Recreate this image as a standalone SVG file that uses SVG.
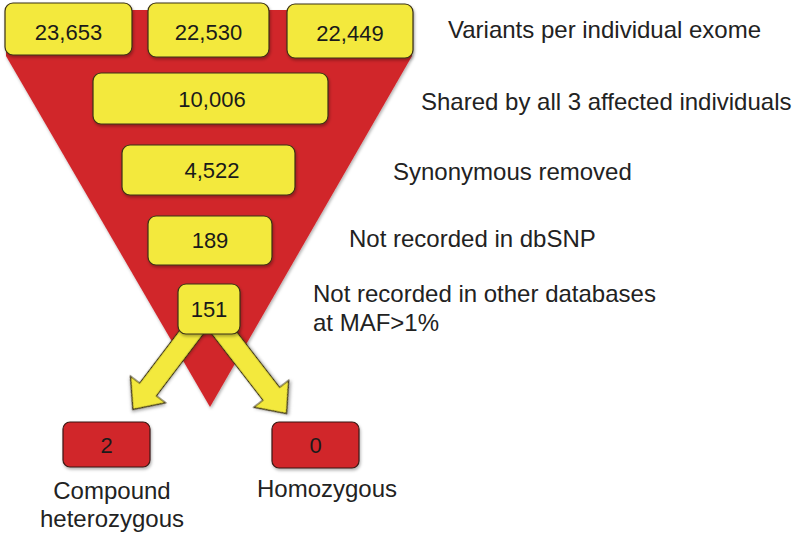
<svg xmlns="http://www.w3.org/2000/svg" width="794" height="535" viewBox="0 0 794 535">
<style>
.y{fill:#f3e93c;stroke:#3a3016;stroke-width:1.2}
.r{fill:#d1252b;stroke:#3a1a14;stroke-width:1.2}
.n{font-family:"Liberation Sans",Arial,sans-serif;font-size:22px;fill:#1a1a1a;text-anchor:middle}
.l{font-family:"Liberation Sans",Arial,sans-serif;font-size:24px;fill:#222}
.c{text-anchor:middle}
.arrow{fill:#f3e93c;stroke:#3a3016;stroke-width:1.2;stroke-linejoin:miter}
</style>
<defs>
<filter id="sh" x="-10%" y="-10%" width="130%" height="140%">
<feDropShadow dx="1" dy="2" stdDeviation="1.5" flood-color="#000" flood-opacity="0.3"/>
</filter>
</defs>
<g id="funnel">
<polygon points="6,10 412,10 412,56 210,407 6,56" fill="#d1252b" filter="url(#sh)"/>
</g>
<g id="connectors">
<polygon class="arrow" points="-10.5,0 10.5,0 10.5,86 22,86 0,111 -22,86 -10.5,86" transform="translate(200,321) rotate(37.2)" filter="url(#sh)"/>
<polygon class="arrow" points="-10.5,0 10.5,0 10.5,92 22,92 0,117 -22,92 -10.5,92" transform="translate(215,321) rotate(-37.7)" filter="url(#sh)"/>
</g>
<g id="n1"><rect class="y" x="5" y="3" width="127" height="52" rx="8" filter="url(#sh)"/><text class="n" x="68.5" y="40">23,653</text></g>
<g id="n2"><rect class="y" x="148" y="3" width="121" height="54" rx="8" filter="url(#sh)"/><text class="n" x="208.5" y="40">22,530</text></g>
<g id="n3"><rect class="y" x="287" y="4" width="126" height="54" rx="8" filter="url(#sh)"/><text class="n" x="350" y="41">22,449</text></g>
<g id="n4"><rect class="y" x="93" y="73" width="235" height="51" rx="8" filter="url(#sh)"/><text class="n" x="212" y="107">10,006</text></g>
<g id="n5"><rect class="y" x="122" y="145" width="173" height="50" rx="8" filter="url(#sh)"/><text class="n" x="212" y="178">4,522</text></g>
<g id="n6"><rect class="y" x="148" y="216" width="124" height="49" rx="8" filter="url(#sh)"/><text class="n" x="210" y="248">189</text></g>
<g id="n7"><rect class="y" x="178" y="284" width="62" height="50" rx="8" filter="url(#sh)"/><text class="n" x="209" y="317">151</text></g>
<g id="n8"><rect class="r" x="63" y="422" width="87" height="45" rx="7" filter="url(#sh)"/><text class="n" x="106.5" y="453">2</text></g>
<g id="n9"><rect class="r" x="272" y="422" width="87" height="46" rx="7" filter="url(#sh)"/><text class="n" x="315.5" y="453">0</text></g>
<g id="labels">
<text class="l" x="448" y="38">Variants per individual exome</text>
<text class="l" x="421" y="110">Shared by all 3 affected individuals</text>
<text class="l" x="393" y="180">Synonymous removed</text>
<text class="l" x="349" y="247">Not recorded in dbSNP</text>
<text class="l" x="313" y="302">Not recorded in other databases</text>
<text class="l" x="313" y="331">at MAF&gt;1%</text>
<text class="l c" x="112" y="499">Compound</text>
<text class="l c" x="112" y="527">heterozygous</text>
<text class="l c" x="327" y="497">Homozygous</text>
</g>
</svg>
